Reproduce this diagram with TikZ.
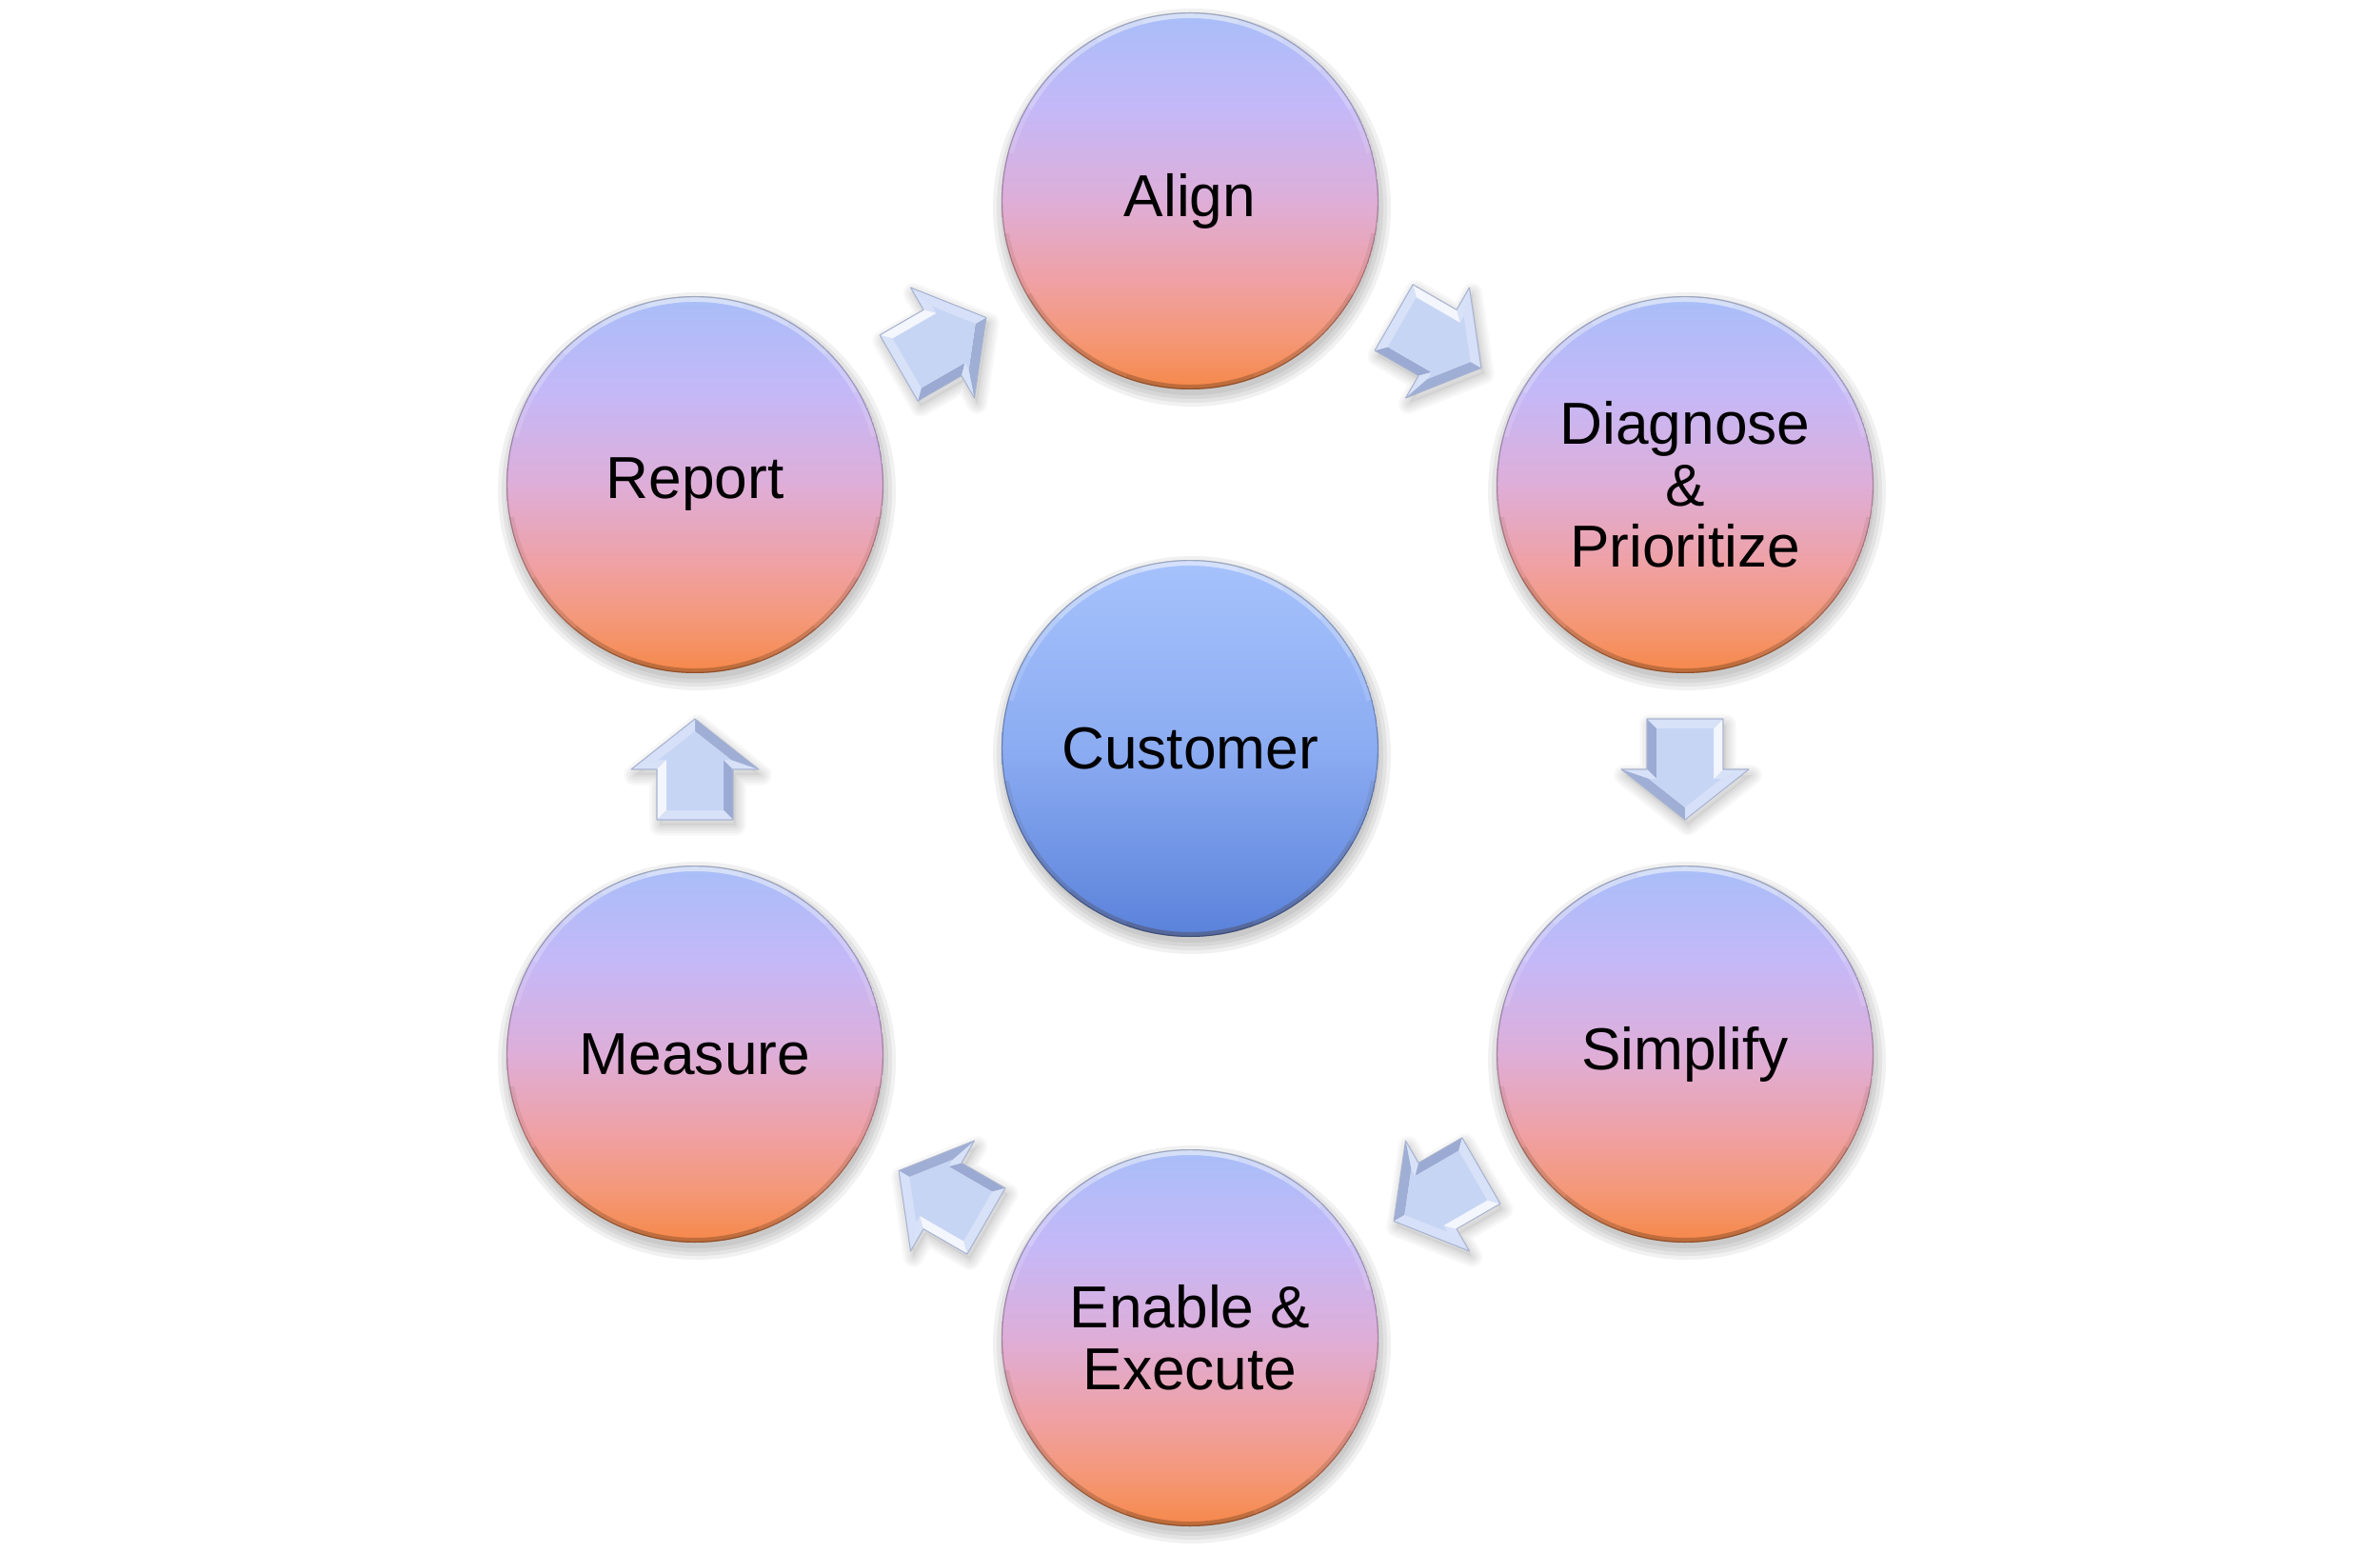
\documentclass[tikz,border=0pt]{standalone}
\usepackage{fontspec}
\setmainfont{Liberation Sans}
\usetikzlibrary{calc}
\definecolor{ballA}{HTML}{A8BEF8}
\definecolor{ballB}{HTML}{C4B8F8}
\definecolor{ballC}{HTML}{DEAED8}
\definecolor{ballD}{HTML}{F0A0A2}
\definecolor{ballD2}{HTML}{F49878}
\definecolor{ballE}{HTML}{F6884A}
\definecolor{custA}{HTML}{A6C2FC}
\definecolor{custB}{HTML}{8CACF2}
\definecolor{custC}{HTML}{5A82DA}
\definecolor{arrowbase}{HTML}{C7D5F5}
\definecolor{arrowdark}{HTML}{6F80B0}
\pgfdeclareverticalshading{ballshade}{100bp}{color(0bp)=(ballE); color(25bp)=(ballE); color(32bp)=(ballD2); color(39bp)=(ballD); color(50bp)=(ballC); color(62.5bp)=(ballB); color(75bp)=(ballA); color(100bp)=(ballA)}
\pgfdeclareverticalshading{custshade}{100bp}{color(0bp)=(custC); color(25bp)=(custC); color(50bp)=(custB); color(75bp)=(custA); color(100bp)=(custA)}
\tikzset{
  rim/.style={path picture={
    \foreach \a in {15,30,45,60,75}
      \draw[white, opacity=0.14, line width=0.07cm] (path picture bounding box.center) ++(90-\a:1.955) arc(90-\a:90+\a:1.955);
    \foreach \a in {20,40,60,80}
      \draw[black!60!brown, opacity=0.09, line width=0.06cm] (path picture bounding box.center) ++(270-\a:1.96) arc(270-\a:270+\a:1.96);
    \draw[black, opacity=0.25, line width=0.4pt] (path picture bounding box.center) circle(1.975);
  }},
  ball/.style={circle, minimum size=3.96cm, inner sep=0pt, shading=ballshade, rim, align=center,
    font=\fontsize{17.7}{18.4}\selectfont, text=black},
  custball/.style={ball, shading=custshade},
  ballshadow/.style={black, opacity=0.055}
}
\newcommand{\bevelarrow}[2]{%
  \begin{scope}[shift={#1}, shift={(0.03,-0.06)}, rotate=#2]
    \fill[black, opacity=0.05] (-0.53,-0.40) -- (0,-0.40) -- (0,-0.67) -- (0.53,0) -- (0,0.67) -- (0,0.40) -- (-0.53,0.40) -- cycle;
    \foreach \w in {1.5,3,4.5,6}
      \draw[black, opacity=0.03, line width=\w pt, line join=round] (-0.53,-0.40) -- (0,-0.40) -- (0,-0.67) -- (0.53,0) -- (0,0.67) -- (0,0.40) -- (-0.53,0.40) -- cycle;
  \end{scope}
  \begin{scope}[shift={#1}, rotate=#2]
    \coordinate (P1) at (-0.53,-0.40);
    \coordinate (P2) at (0,-0.40);
    \coordinate (P3) at (0,-0.67);
    \coordinate (P4) at (0.53,0);
    \coordinate (P5) at (0,0.67);
    \coordinate (P6) at (0,0.40);
    \coordinate (P7) at (-0.53,0.40);
    \coordinate (Q1) at (-0.43,-0.30);
    \coordinate (Q2) at (0.10,-0.30);
    \coordinate (Q3) at (0.10,-0.38);
    \coordinate (Q4) at (0.40,0);
    \coordinate (Q5) at (0.10,0.38);
    \coordinate (Q6) at (0.10,0.30);
    \coordinate (Q7) at (-0.43,0.30);
    \foreach \i/\j/\na in {1/2/-90,2/3/180,3/4/-38.3,4/5/38.3,5/6/180,6/7/90,7/1/180}{
      \pgfmathsetmacro\bb{cos(\na-110)}
      \pgfmathtruncatemacro\pw{max(0,\bb)*85}
      \pgfmathtruncatemacro\pd{max(0,-\bb)*55}
      \colorlet{facetA}{arrowdark!\pd!arrowbase}
      \colorlet{facetB}{white!\pw!facetA}
      \fill[facetB] (P\i) -- (P\j) -- (Q\j) -- (Q\i) -- cycle;
    }
    \fill[arrowbase] (Q1) -- (Q2) -- (Q3) -- (Q4) -- (Q5) -- (Q6) -- (Q7) -- cycle;
    \draw[arrowdark!60, line width=0.3pt, line join=round] (P1) -- (P2) -- (P3) -- (P4) -- (P5) -- (P6) -- (P7) -- cycle;
  \end{scope}}
\begin{document}
\begin{tikzpicture}
\useasboundingbox (0,0) rectangle (25,16.3);
\fill[white] (0,0) rectangle (25,16.3);
\coordinate (cA) at (12.50,14.19);
\coordinate (cD) at (17.70,11.21);
\coordinate (cS) at (17.70,5.23);
\coordinate (cE) at (12.50,2.25);
\coordinate (cM) at (7.30,5.23);
\coordinate (cR) at (7.30,11.21);
\coordinate (cC) at (12.50,8.44);
% soft shadows of the balls
\foreach \c in {cA,cD,cS,cE,cM,cR,cC}
  \foreach \r in {1.97,2.01,2.05,2.09}
    \fill[ballshadow] ($(\c)+(0.02,-0.07)$) circle(\r);
% balls
\node[ball] (align) at (cA) {Align};
\node[ball] (diag) at (cD) {Diagnose\\\&\\Prioritize};
\node[ball] (simp) at (cS) {Simplify};
\node[ball] (enab) at (cE) {Enable \&\\Execute};
\node[ball] (meas) at (cM) {Measure};
\node[ball] (repo) at (cR) {Report};
\node[custball] (cust) at (cC) {Customer};
% block arrows between the balls
\bevelarrow{($(align)!0.5!(diag)$)}{-30}
\bevelarrow{($(diag)!0.5!(simp)$)}{-90}
\bevelarrow{($(simp)!0.5!(enab)$)}{-150}
\bevelarrow{($(enab)!0.5!(meas)$)}{150}
\bevelarrow{($(meas)!0.5!(repo)$)}{90}
\bevelarrow{($(repo)!0.5!(align)$)}{30}
\end{tikzpicture}
\end{document}
